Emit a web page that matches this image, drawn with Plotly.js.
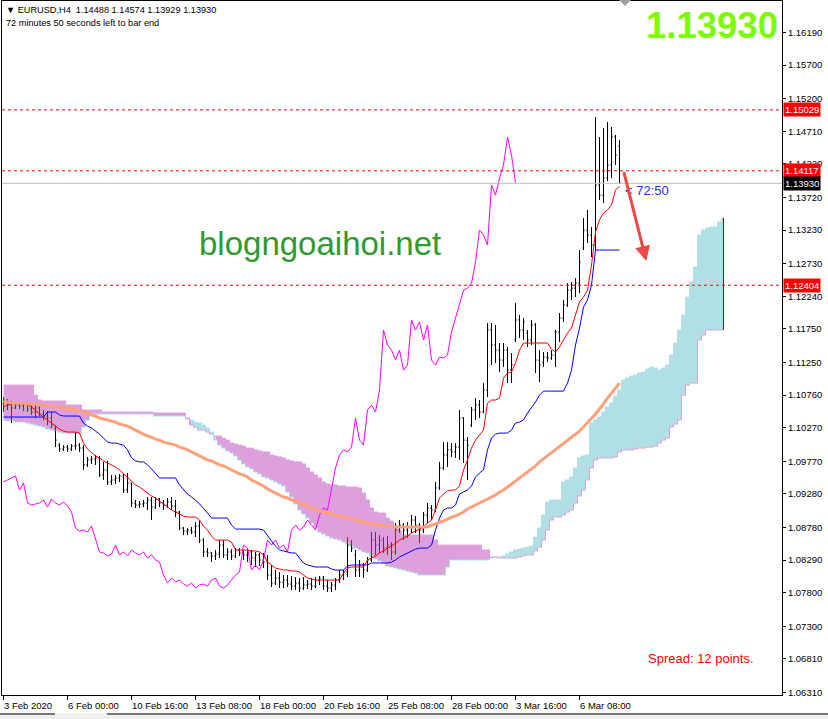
<!DOCTYPE html>
<html><head><meta charset="utf-8">
<script src="https://cdn.plot.ly/plotly-3.0.1.min.js"></script>
<style>html,body{margin:0;padding:0;background:#fff;}#chart{width:828px;height:719px;}</style>
</head><body><div id="chart"></div>
<script>
// ---------- DATA ----------
const symbol = "EURUSD,H4";
const countdownText = "72 minutes 50 seconds left to bar end";
const countdownShort = "72:50";
const spreadPoints = 12;
const watermark = "blogngoaihoi.net";
const tickIndex = [0,16,32,48,64,80,96,112,128,144];
const tickText = ["3 Feb 2020","6 Feb 00:00","10 Feb 16:00","13 Feb 08:00","18 Feb 00:00","20 Feb 16:00","25 Feb 08:00","28 Feb 00:00","3 Mar 16:00","6 Mar 08:00"];
const priceTicks = [1.16190,1.15700,1.15200,1.14710,1.14220,1.13720,1.13230,1.12730,1.12240,1.11750,1.11250,1.10760,1.10270,1.09770,1.09280,1.08780,1.08290,1.07800,1.07300,1.06810,1.06310];
const levels = [1.15029,1.14117,1.12404];
const bid = 1.13930;

const open = [1.10626,1.10686,1.10611,1.10566,1.10611,1.10596,1.10626,1.10551,1.10506,1.10566,
1.10476,1.10446,1.10416,1.10266,1.10011,1.09951,1.09981,1.09951,1.09996,1.10011,
1.09966,1.09714,1.09789,1.09804,1.09819,1.09564,1.09639,1.09459,1.09489,1.09519,
1.09549,1.09339,1.09444,1.09144,1.09114,1.09129,1.09144,1.09189,1.09084,1.09204,
1.09144,1.09114,1.09159,1.09099,1.09009,1.08769,1.08724,1.08739,1.08709,1.08799,
1.08589,1.08411,1.08396,1.08351,1.08381,1.08514,1.08366,1.08411,1.08351,1.08441,
1.08396,1.08366,1.08411,1.08321,1.08366,1.08291,1.08261,1.08066,1.07946,1.08021,
1.07961,1.07991,1.07931,1.07901,1.07946,1.07871,1.07916,1.07931,1.07901,1.07991,
1.08021,1.07901,1.07871,1.07916,1.07991,1.08066,1.08111,1.08514,1.08366,1.08141,
1.08216,1.08141,1.08291,1.08589,1.08514,1.08589,1.08469,1.08514,1.08411,1.08739,
1.08814,1.08739,1.08784,1.08889,1.08814,1.08739,1.08964,1.09069,1.09039,1.09369,
1.09669,1.09864,1.09939,1.09909,1.09981,1.10416,1.10086,1.10311,1.10536,1.10611,
1.10506,1.10834,1.11734,1.11509,1.11434,1.11284,1.11434,1.11134,1.11584,1.11884,
1.11734,1.11689,1.11584,1.11809,1.11284,1.11254,1.11329,1.11314,1.11359,1.11704,
1.11914,1.12109,1.12331,1.12361,1.12436,1.12961,1.13231,1.13156,1.13006,1.13903,
1.13753,1.14008,1.14203,1.14623,1.14488];
const high = [1.10729,1.10699,1.10671,1.10641,1.10641,1.10656,1.10641,1.10626,1.10611,1.10626,
1.10536,1.10521,1.10506,1.10311,1.10041,1.10011,1.10011,1.10026,1.10206,1.10041,
1.10011,1.09834,1.09849,1.09864,1.09849,1.09759,1.09774,1.09564,1.09564,1.09579,
1.09579,1.09594,1.09444,1.09189,1.09174,1.09189,1.09234,1.09234,1.09234,1.09219,
1.09189,1.09219,1.09234,1.09189,1.09024,1.08784,1.08769,1.08784,1.08859,1.08889,
1.08619,1.08469,1.08411,1.08441,1.08589,1.08589,1.08469,1.08454,1.08469,1.08469,
1.08441,1.08469,1.08441,1.08411,1.08396,1.08396,1.08366,1.08216,1.08141,1.08111,
1.08066,1.08066,1.08051,1.08036,1.08021,1.08036,1.07991,1.08021,1.08036,1.08051,
1.08051,1.07991,1.07961,1.08021,1.08141,1.08141,1.08634,1.08589,1.08441,1.08291,
1.08246,1.08336,1.08709,1.08709,1.08664,1.08634,1.08649,1.08559,1.08844,1.08889,
1.08844,1.08859,1.08964,1.08949,1.08844,1.09009,1.09144,1.09114,1.09459,1.09759,
1.10056,1.10056,1.10041,1.10041,1.10536,1.10431,1.10131,1.10581,1.10714,1.10686,
1.10939,1.11839,1.11839,1.11809,1.11539,1.11539,1.11479,1.11389,1.12139,1.11959,
1.11914,1.11734,1.11884,1.11839,1.11434,1.11404,1.11404,1.11434,1.11734,1.11989,
1.12184,1.12436,1.12451,1.12511,1.12931,1.13411,1.13531,1.13276,1.14923,1.14623,
1.14758,1.14848,1.14773,1.14653,1.14574];
const low = [1.10506,1.10536,1.10341,1.10551,1.10551,1.10521,1.10506,1.10461,1.10416,1.10446,
1.10386,1.10311,1.10266,1.09981,1.09909,1.09924,1.09909,1.09924,1.09939,1.09909,
1.09639,1.09684,1.09729,1.09714,1.09534,1.09489,1.09414,1.09414,1.09429,1.09459,
1.09294,1.09294,1.09084,1.09069,1.09069,1.09084,1.09039,1.08889,1.09054,1.09084,
1.09039,1.09069,1.09039,1.08934,1.08739,1.08664,1.08664,1.08679,1.08634,1.08544,
1.08336,1.08336,1.08261,1.08291,1.08321,1.08321,1.08291,1.08291,1.08321,1.08351,
1.08291,1.08261,1.08216,1.08186,1.08201,1.08171,1.07991,1.07886,1.07916,1.07871,
1.07871,1.07886,1.07841,1.07841,1.07811,1.07841,1.07856,1.07841,1.07871,1.07916,
1.07841,1.07811,1.07811,1.07841,1.07946,1.07991,1.08036,1.08411,1.08036,1.08036,
1.08021,1.08111,1.08261,1.08366,1.08396,1.08396,1.08366,1.08291,1.08366,1.08694,
1.08589,1.08619,1.08694,1.08694,1.08544,1.08694,1.08844,1.08889,1.09009,1.09339,
1.09639,1.09684,1.09834,1.09819,1.09789,1.09744,1.09489,1.10281,1.10386,1.10416,
1.10491,1.10729,1.11209,1.11239,1.11104,1.11179,1.10939,1.10939,1.11554,1.11614,
1.11584,1.11479,1.11509,1.11089,1.10954,1.11179,1.11254,1.11284,1.11179,1.11554,
1.11854,1.12079,1.12184,1.12226,1.12286,1.12931,1.13036,1.12826,1.12931,1.13681,
1.13636,1.13963,1.14008,1.14203,1.13929];
const close = [1.10686,1.10611,1.10566,1.10611,1.10596,1.10626,1.10551,1.10506,1.10566,1.10476,
1.10446,1.10416,1.10311,1.10086,1.09951,1.09981,1.09951,1.09996,1.10011,1.09966,
1.09714,1.09789,1.09804,1.09819,1.09564,1.09639,1.09459,1.09489,1.09519,1.09549,
1.09339,1.09444,1.09144,1.09114,1.09129,1.09144,1.09189,1.09084,1.09204,1.09144,
1.09114,1.09159,1.09099,1.09009,1.08769,1.08724,1.08739,1.08709,1.08799,1.08589,
1.08411,1.08396,1.08351,1.08381,1.08514,1.08366,1.08411,1.08351,1.08441,1.08396,
1.08366,1.08411,1.08321,1.08366,1.08291,1.08261,1.08066,1.07946,1.08021,1.07961,
1.07991,1.07931,1.07901,1.07946,1.07871,1.07916,1.07931,1.07901,1.07991,1.08021,
1.07901,1.07871,1.07916,1.07991,1.08066,1.08111,1.08514,1.08469,1.08141,1.08216,
1.08141,1.08291,1.08589,1.08514,1.08589,1.08469,1.08514,1.08411,1.08739,1.08814,
1.08739,1.08784,1.08889,1.08814,1.08739,1.08964,1.09069,1.09039,1.09369,1.09669,
1.09864,1.09939,1.09909,1.09981,1.10416,1.10086,1.10011,1.10536,1.10611,1.10506,
1.10834,1.11734,1.11509,1.11434,1.11284,1.11434,1.11134,1.11209,1.11884,1.11734,
1.11854,1.11584,1.11809,1.11284,1.11209,1.11329,1.11314,1.11359,1.11704,1.11914,
1.12109,1.12331,1.12361,1.12436,1.12751,1.13231,1.13156,1.13006,1.13903,1.13753,
1.14008,1.14203,1.14623,1.14353,1.13930];

const tenkan = [1.10581,1.10611,1.10626,1.10641,1.10641,1.10626,1.10611,1.10581,1.10536,1.10476,
1.10431,1.10386,1.10341,1.10296,1.10251,1.10221,1.10206,1.10206,1.10206,1.10191,
1.10041,1.09951,1.09894,1.09849,1.09819,1.09774,1.09744,1.09714,1.09684,1.09639,
1.09579,1.09534,1.09459,1.09414,1.09384,1.09339,1.09294,1.09249,1.09219,1.09174,
1.09129,1.09084,1.09039,1.09009,1.08979,1.08949,1.08934,1.08934,1.08934,1.08889,
1.08799,1.08739,1.08649,1.08589,1.08589,1.08589,1.08589,1.08559,1.08441,1.08441,
1.08441,1.08441,1.08426,1.08426,1.08411,1.08366,1.08261,1.08216,1.08171,1.08156,
1.08141,1.08141,1.08126,1.08126,1.08111,1.08066,1.08021,1.08006,1.07991,1.07991,
1.07991,1.07991,1.07991,1.07991,1.07991,1.08096,1.08171,1.08186,1.08186,1.08186,
1.08186,1.08291,1.08321,1.08351,1.08396,1.08426,1.08469,1.08499,1.08544,1.08589,
1.08619,1.08649,1.08694,1.08724,1.08754,1.08784,1.08844,1.08889,1.09039,1.09219,
1.09279,1.09324,1.09339,1.09339,1.09399,1.09639,1.09789,1.09966,1.10086,1.10161,
1.10236,1.10641,1.10686,1.10686,1.10714,1.11014,1.11089,1.11104,1.11239,1.11434,
1.11539,1.11539,1.11539,1.11539,1.11539,1.11539,1.11539,1.11449,1.11404,1.11479,
1.11584,1.11689,1.11764,1.11959,1.12154,1.12226,1.12331,1.12706,1.13201,1.13381,
1.13486,1.13531,1.13606,1.13828,1.13888];
const kijun = [1.10431,1.10431,1.10431,1.10431,1.10431,1.10431,1.10431,1.10431,1.10431,1.10431,
1.10431,1.10506,1.10506,1.10506,1.10461,1.10446,1.10446,1.10446,1.10446,1.10446,
1.10341,1.10296,1.10266,1.10221,1.10176,1.10116,1.10056,1.10041,1.10041,1.10026,
1.10011,1.09939,1.09819,1.09774,1.09759,1.09759,1.09714,1.09654,1.09579,1.09519,
1.09519,1.09519,1.09519,1.09519,1.09414,1.09339,1.09279,1.09234,1.09189,1.09129,
1.09069,1.08994,1.08919,1.08919,1.08919,1.08919,1.08919,1.08814,1.08754,1.08754,
1.08754,1.08754,1.08754,1.08754,1.08754,1.08739,1.08649,1.08574,1.08499,1.08441,
1.08426,1.08411,1.08396,1.08396,1.08321,1.08246,1.08216,1.08201,1.08186,1.08186,
1.08186,1.08186,1.08156,1.08141,1.08141,1.08141,1.08201,1.08216,1.08216,1.08216,
1.08216,1.08216,1.08246,1.08246,1.08246,1.08246,1.08246,1.08261,1.08291,1.08336,
1.08366,1.08396,1.08426,1.08454,1.08469,1.08469,1.08469,1.08514,1.08739,1.08919,
1.09039,1.09069,1.09069,1.09114,1.09279,1.09309,1.09339,1.09399,1.09534,1.09594,
1.09639,1.09939,1.10116,1.10176,1.10191,1.10191,1.10191,1.10236,1.10341,1.10356,
1.10386,1.10491,1.10566,1.10656,1.10759,1.10819,1.10819,1.10819,1.10819,1.10819,
1.10819,1.10939,1.11134,1.11509,1.11764,1.12079,1.12184,1.12406,1.12931,1.12931,
1.12931,1.12931,1.12931,1.12931,1.12931];
const ma = [1.10656,1.10656,1.10641,1.10641,1.10641,1.10641,1.10626,1.10626,1.10626,1.10611,
1.10611,1.10596,1.10596,1.10581,1.10581,1.10566,1.10566,1.10551,1.10536,1.10521,
1.10506,1.10491,1.10461,1.10446,1.10416,1.10401,1.10386,1.10371,1.10356,1.10326,
1.10311,1.10296,1.10266,1.10236,1.10206,1.10176,1.10146,1.10131,1.10101,1.10086,
1.10056,1.10041,1.10026,1.10011,1.09981,1.09966,1.09939,1.09909,1.09879,1.09849,
1.09819,1.09789,1.09774,1.09744,1.09714,1.09699,1.09669,1.09639,1.09609,1.09579,
1.09564,1.09534,1.09489,1.09459,1.09429,1.09399,1.09354,1.09324,1.09294,1.09264,
1.09234,1.09219,1.09189,1.09174,1.09144,1.09129,1.09099,1.09069,1.09039,1.09024,
1.09009,1.08994,1.08979,1.08964,1.08949,1.08934,1.08919,1.08904,1.08889,1.08874,
1.08859,1.08844,1.08829,1.08814,1.08814,1.08799,1.08799,1.08784,1.08784,1.08784,
1.08784,1.08784,1.08784,1.08784,1.08784,1.08784,1.08784,1.08814,1.08829,1.08859,
1.08874,1.08904,1.08934,1.08949,1.08979,1.09009,1.09054,1.09084,1.09114,1.09144,
1.09174,1.09204,1.09234,1.09264,1.09309,1.09339,1.09384,1.09429,1.09474,1.09519,
1.09564,1.09609,1.09654,1.09699,1.09759,1.09804,1.09849,1.09894,1.09939,1.09996,
1.10041,1.10086,1.10131,1.10176,1.10221,1.10281,1.10341,1.10401,1.10476,1.10551,
1.10641,1.10714,1.10789,1.10864,1.10939];
const spanA = [1.10386,1.10371,1.10371,1.10356,1.10356,1.10356,1.10341,1.10326,1.10311,1.10296,
1.10281,1.10251,1.10236,1.10221,1.10206,1.10191,1.10191,1.10191,1.10191,1.10191,
1.10281,1.10386,1.10476,1.10476,1.10476,1.10476,1.10476,1.10476,1.10476,1.10476,
1.10476,1.10476,1.10476,1.10476,1.10476,1.10476,1.10476,1.10476,1.10446,1.10446,
1.10446,1.10446,1.10446,1.10446,1.10446,1.10446,1.10401,1.10386,1.10356,1.10341,
1.10311,1.10266,1.10206,1.10086,1.10011,1.09966,1.09924,1.09894,1.09849,1.09789,
1.09729,1.09684,1.09654,1.09609,1.09579,1.09534,1.09519,1.09489,1.09459,1.09429,
1.09399,1.09309,1.09234,1.09129,1.09039,1.08979,1.08919,1.08844,1.08769,1.08709,
1.08679,1.08649,1.08619,1.08604,1.08589,1.08559,1.08529,1.08499,1.08469,1.08441,
1.08411,1.08396,1.08351,1.08306,1.08276,1.08246,1.08201,1.08186,1.08171,1.08156,
1.08141,1.08126,1.08111,1.08096,1.08066,1.08066,1.08066,1.08066,1.08066,1.08066,
1.08066,1.08186,1.08291,1.08291,1.08291,1.08291,1.08291,1.08291,1.08291,1.08291,
1.08291,1.08291,1.08321,1.08336,1.08336,1.08351,1.08381,1.08411,1.08441,1.08454,
1.08469,1.08484,1.08499,1.08634,1.08769,1.08964,1.09159,1.09189,1.09189,1.09189,
1.09459,1.09489,1.09534,1.09669,1.09819,1.09849,1.09864,1.10341,1.10386,1.10431,
1.10506,1.10581,1.10641,1.10744,1.10834,1.10984,1.11014,1.11044,1.11059,1.11089,
1.11104,1.11149,1.11179,1.11164,1.11134,1.11164,1.11209,1.11359,1.11539,1.11734,
1.11959,1.12226,1.12451,1.12676,1.13156,1.13231,1.13261,1.13276,1.13276,1.13351,
1.13411];
const spanB = [1.10909,1.10909,1.10909,1.10909,1.10909,1.10909,1.10909,1.10909,1.10759,1.10686,
1.10671,1.10671,1.10671,1.10671,1.10671,1.10671,1.10611,1.10611,1.10611,1.10611,
1.10536,1.10536,1.10536,1.10536,1.10536,1.10506,1.10506,1.10506,1.10506,1.10506,
1.10506,1.10506,1.10506,1.10506,1.10506,1.10506,1.10506,1.10506,1.10491,1.10491,
1.10491,1.10491,1.10491,1.10491,1.10491,1.10491,1.10416,1.10311,1.10281,1.10236,
1.10236,1.10206,1.10176,1.10146,1.10146,1.10116,1.10086,1.10041,1.10026,1.10011,
1.09996,1.09966,1.09966,1.09939,1.09924,1.09909,1.09909,1.09864,1.09849,1.09834,
1.09819,1.09789,1.09774,1.09759,1.09759,1.09729,1.09669,1.09609,1.09564,1.09519,
1.09459,1.09429,1.09414,1.09414,1.09399,1.09399,1.09384,1.09384,1.09384,1.09369,
1.09294,1.09189,1.09069,1.09009,1.08994,1.08994,1.08919,1.08874,1.08799,1.08739,
1.08664,1.08664,1.08664,1.08664,1.08664,1.08664,1.08664,1.08664,1.08589,1.08514,
1.08514,1.08514,1.08514,1.08514,1.08514,1.08514,1.08514,1.08514,1.08514,1.08514,
1.08441,1.08441,1.08336,1.08336,1.08321,1.08321,1.08321,1.08321,1.08321,1.08336,
1.08351,1.08366,1.08366,1.08426,1.08484,1.08589,1.08739,1.08889,1.08934,1.08934,
1.08964,1.09009,1.09039,1.09144,1.09249,1.09339,1.09489,1.09669,1.09789,1.09819,
1.09819,1.09819,1.09819,1.09834,1.09909,1.09939,1.09939,1.09939,1.09951,1.09966,
1.09966,1.09981,1.09981,1.09996,1.10041,1.10086,1.10116,1.10281,1.10326,1.10386,
1.10759,1.10909,1.10939,1.10939,1.11584,1.11659,1.11734,1.11734,1.11734,1.11734,
1.11734];

// ---------- STYLE ----------
const FONT = "Liberation Sans, Arial, sans-serif";
const PLUM = "#DDA0DD", PBLUE = "#B0E0E6", BARGREEN = "#225F22";
const N = close.length, SHIFT = 26;
const idx = close.map((_, i) => i);

// plot-area pixel helpers (plot area: x 2..782, y 1..695)
const px = x => (x - 2) / 780;
const py = y => (695 - y) / 694;

const traces = [];

// ---- cloud (segments by which span is on top) ----
const cloudX = spanA.map((_, i) => i);
let segStart = 0;
const bear = i => spanB[i] >= spanA[i];
for (let i = 1; i <= spanA.length; i++) {
  if (i === spanA.length || bear(i) !== bear(segStart)) {
    const end = Math.min(i, spanA.length - 1);
    const xs = cloudX.slice(segStart, end + 1);
    const a = spanA.slice(segStart, end + 1), b = spanB.slice(segStart, end + 1);
    const isBear = bear(segStart);
    const lower = isBear ? a : b, upper = isBear ? b : a;
    const lowerCol = isBear ? PBLUE : PLUM, upperCol = isBear ? PLUM : PBLUE;
    traces.push({x: xs, y: lower, mode: "lines", line: {color: lowerCol, width: 1, shape: "hvh"}, hoverinfo: "skip"});
    traces.push({x: xs, y: upper, mode: "lines", fill: "tonexty", fillcolor: upperCol, line: {color: upperCol, width: 1, shape: "hvh"}, hoverinfo: "skip"});
    segStart = i;
  }
}
// end-of-cloud vertical line
traces.push({x: [spanA.length - 1, spanA.length - 1], y: [spanA[spanA.length - 1], spanB[spanB.length - 1]], mode: "lines", line: {color: "#5A1E1E", width: 1}, hoverinfo: "skip"});

// ---- OHLC bars (black outside the cloud, dark green inside) ----
const bx = [], by = [], gx = [], gy = [];
const TK = 0.3;
function seg(arrx, arry, x0, y0, x1, y1) { arrx.push(x0, x1, null); arry.push(y0, y1, null); }
for (let i = 0; i < N; i++) {
  const lo = Math.min(spanA[i], spanB[i]), hi = Math.max(spanA[i], spanB[i]);
  const L = low[i], Hh = high[i];
  const inLo = Math.max(L, lo), inHi = Math.min(Hh, hi);
  if (inHi > inLo) {
    seg(gx, gy, i, inLo, i, inHi);
    if (L < lo) seg(bx, by, i, L, i, lo);
    if (Hh > hi) seg(bx, by, i, hi, i, Hh);
  } else {
    seg(bx, by, i, L, i, Hh);
  }
  const oIn = open[i] >= lo && open[i] <= hi, cIn = close[i] >= lo && close[i] <= hi;
  seg(oIn ? gx : bx, oIn ? gy : by, i - TK, open[i], i, open[i]);
  seg(cIn ? gx : bx, cIn ? gy : by, i, close[i], i + TK, close[i]);
}
traces.push({x: bx, y: by, mode: "lines", line: {color: "#000000", width: 1}, connectgaps: false, hoverinfo: "skip"});
traces.push({x: gx, y: gy, mode: "lines", line: {color: BARGREEN, width: 1}, connectgaps: false, hoverinfo: "skip"});

// ---- Ichimoku lines ----
const chX = [], chY = [];
for (let j = 0; j + SHIFT < N; j++) { chX.push(j); chY.push(close[j + SHIFT]); }
traces.push({x: chX, y: chY, mode: "lines", line: {color: "#FF00FF", width: 1}, hoverinfo: "skip"});
traces.push({x: idx, y: kijun, mode: "lines", line: {color: "#0000FF", width: 1}, hoverinfo: "skip"});
traces.push({x: idx, y: tenkan, mode: "lines", line: {color: "#FF0000", width: 1}, hoverinfo: "skip"});
traces.push({x: idx, y: ma, mode: "lines", line: {color: "#FFA07A", width: 3}, hoverinfo: "skip"});

// ---------- LAYOUT ----------
const shapes = [];
levels.forEach(v => shapes.push({type: "line", xref: "paper", x0: 0, x1: 1, yref: "y", y0: v, y1: v, line: {color: "#FF0000", width: 1, dash: "3px,3px"}}));
shapes.push({type: "line", xref: "paper", x0: 0, x1: 1, yref: "y", y0: bid, y1: bid, line: {color: "#C0C0C0", width: 1}});
// chart-shift marker
shapes.push({type: "path", xref: "paper", yref: "paper", path: `M ${px(619)},${py(0)} L ${px(631)},${py(0)} L ${px(625)},${py(6)} Z`, fillcolor: "#A0A0A0", line: {width: 0}});
// bottom tab strip
shapes.push({type: "rect", xref: "paper", yref: "paper", x0: px(0), x1: px(828), y0: py(713), y1: py(719), fillcolor: "#F0F0F0", line: {width: 0}, layer: "above"});
shapes.push({type: "line", xref: "paper", yref: "paper", x0: px(0), x1: px(55), y0: py(714), y1: py(714), line: {color: "#000", width: 1}});
shapes.push({type: "line", xref: "paper", yref: "paper", x0: px(107), x1: px(828), y0: py(714), y1: py(714), line: {color: "#000", width: 1}});

const ann = [];
const last = N - 1;
const hdr = "\u25BC " + symbol + "\u00a0\u00a0" + [open[last], high[last], low[last], close[last]].map(v => v.toFixed(5)).join(" ");
ann.push({xref: "paper", yref: "paper", x: px(4), y: py(10), xanchor: "left", yanchor: "middle", text: hdr, showarrow: false, font: {family: FONT, size: 9.2, color: "#000"}});
ann.push({xref: "paper", yref: "paper", x: px(4), y: py(23), xanchor: "left", yanchor: "middle", text: countdownText, showarrow: false, font: {family: FONT, size: 9.2, color: "#000"}});
ann.push({xref: "paper", yref: "paper", x: px(780), y: py(26), xanchor: "right", yanchor: "middle", text: "<b>" + close[last].toFixed(5) + "</b>", showarrow: false, font: {family: FONT, size: 36.5, color: "#7CFC00"}});
ann.push({xref: "paper", yref: "paper", x: px(320), y: py(243), xanchor: "center", yanchor: "middle", text: watermark, showarrow: false, font: {family: FONT, size: 33, color: "#2E9B2E"}});
ann.push({xref: "paper", yref: "paper", x: px(623), y: py(190), xanchor: "left", yanchor: "middle", text: "&lt; " + countdownShort, showarrow: false, font: {family: FONT, size: 13, color: "#2B2BFF"}});
ann.push({xref: "paper", yref: "paper", x: px(646), y: py(658), xanchor: "left", yanchor: "middle", text: "Spread: " + spreadPoints + " points.", showarrow: false, font: {family: FONT, size: 13, color: "#FF0000"}});
// arrow
ann.push({xref: "x", yref: "y", x: 160.7, y: 1.12766, axref: "x", ayref: "y", ax: 155.0, ay: 1.14120, text: "", showarrow: true, arrowhead: 2, arrowsize: 1, arrowwidth: 3, arrowcolor: "#F04848"});
// price boxes on the scale
levels.forEach(v => ann.push({xref: "paper", yref: "y", x: 1, xshift: 1, y: v, xanchor: "left", yanchor: "middle", text: v.toFixed(5), showarrow: false, bgcolor: "#FF0000", borderpad: 1, font: {family: FONT, size: 9.5, color: "#FFFFFF"}}));
ann.push({xref: "paper", yref: "y", x: 1, xshift: 1, y: bid, xanchor: "left", yanchor: "middle", text: bid.toFixed(5), showarrow: false, bgcolor: "#000000", borderpad: 1, font: {family: FONT, size: 9.5, color: "#FFFFFF"}});
// time labels (left aligned at tick)
tickIndex.forEach((t, k) => ann.push({xref: "x", yref: "paper", x: t, y: py(705), xanchor: "left", yanchor: "middle", xshift: -2, text: tickText[k], showarrow: false, font: {family: FONT, size: 9.5, color: "#000"}}));

const layout = {
  width: 828, height: 719,
  margin: {l: 2, r: 46, t: 1, b: 24, pad: 0},
  paper_bgcolor: "#FFFFFF", plot_bgcolor: "#FFFFFF",
  showlegend: false, hovermode: false,
  xaxis: {range: [-0.375, 194.625], showgrid: false, zeroline: false, showline: true, linecolor: "#000", linewidth: 1, mirror: true,
          ticks: "outside", ticklen: 4, tickcolor: "#000", tickvals: tickIndex, showticklabels: false},
  yaxis: {side: "right", range: [1.06270, 1.16659], showgrid: false, zeroline: false, showline: true, linecolor: "#000", linewidth: 1, mirror: true,
          ticks: "outside", ticklen: 3, tickcolor: "#000", tickvals: priceTicks, tickformat: ".5f",
          tickfont: {family: FONT, size: 9.5, color: "#000"}},
  shapes: shapes, annotations: ann
};
Plotly.newPlot("chart", traces, layout, {displayModeBar: false, staticPlot: true});
</script></body></html>
